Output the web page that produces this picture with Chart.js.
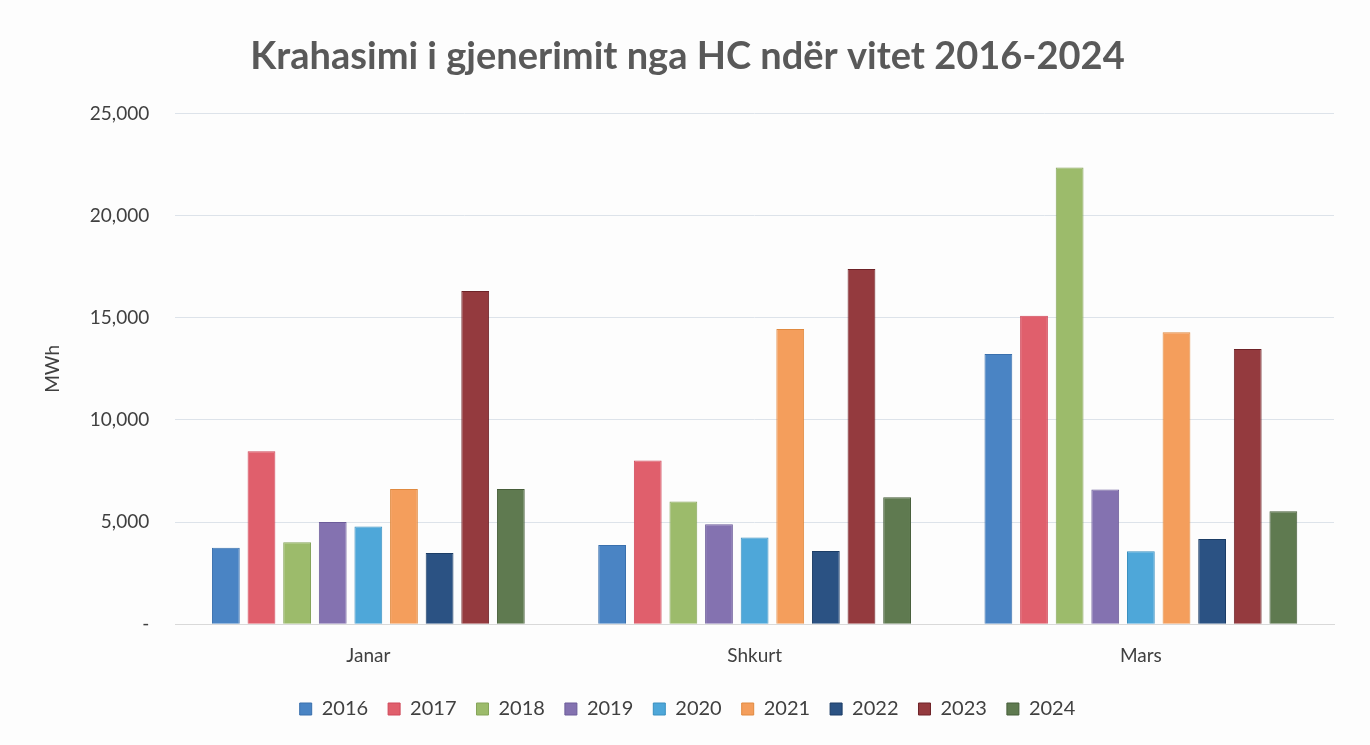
<!DOCTYPE html>
<html>
<head>
<meta charset="utf-8">
<script src="https://cdn.jsdelivr.net/npm/chart.js@4/dist/chart.umd.min.js"></script>
<style>
  html, body { margin: 0; padding: 0; background: #fdfdfd; }
  #wrap { width: 1370px; height: 745px; }
</style>
</head>
<body>
<div id="wrap"><canvas id="myBarChart" width="1370" height="745"></canvas></div>
<script>
// muajt
var months = ['Janar', 'Shkurt', 'Mars'];
var years = ['2016', '2017', '2018', '2019', '2020', '2021', '2022', '2023', '2024'];

// gjenerimi MWh per vit (Janar, Shkurt, Mars)
var v2016 = [3740, 3880, 13230];
var v2017 = [8470, 8020, 15100];
var v2018 = [4010, 6010, 22360];
var v2019 = [5000, 4890, 6590];
var v2020 = [4780, 4240, 3570];
var v2021 = [6620, 14450, 14290];
var v2022 = [3490, 3580, 4170];
var v2023 = [16320, 17390, 13470];
var v2024 = [6620, 6220, 5530];

var yTicks = [0, 5000, 10000, 15000, 20000, 25000];

var colors = ['#4a84c4', '#e05f6c', '#9cbb6b', '#8472b0', '#4ea7d9', '#f49e5c', '#2b5283', '#943a3e', '#5f7a50'];
var borders = ['#3a70ad', '#d0485a', '#86a55a', '#6c5c9a', '#3a90c0', '#e08a40', '#1c3d66', '#6e2328', '#475e3a'];

var series = [v2016, v2017, v2018, v2019, v2020, v2021, v2022, v2023, v2024];
var datasets = [];
for (var i = 0; i < years.length; i++) {
    datasets.push({
        label: years[i],
        data: series[i],
        backgroundColor: colors[i],
        borderColor: borders[i],
        borderWidth: 1
    });
}

var ctx = document.getElementById('myBarChart').getContext('2d');
var myBarChart = new Chart(ctx, {
    type: 'bar',
    data: { labels: months, datasets: datasets },
    options: {
        responsive: false,
        animation: false,
        layout: { padding: { left: 41, right: 36, top: 18, bottom: 16 } },
        plugins: {
            title: {
                display: true,
                text: 'Krahasimi i gjenerimit nga HC ndër vitet 2016-2024',
                color: '#595959',
                font: { family: 'Lato', size: 38, weight: 'bold' },
                padding: { top: 16, bottom: 34 }
            },
            legend: {
                position: 'bottom',
                labels: {
                    color: '#404040',
                    font: { family: 'Lato', size: 20 },
                    boxWidth: 12,
                    boxHeight: 12,
                    padding: 20
                }
            },
            tooltip: { enabled: false }
        },
        datasets: { bar: { categoryPercentage: 0.83, barPercentage: 0.78 } },
        scales: {
            x: {
                grid: { display: false },
                border: { color: '#d9d9d9' },
                ticks: { color: '#404040', font: { family: 'Lato', size: 19 }, padding: 12 }
            },
            y: {
                min: 0,
                max: 25000,
                afterBuildTicks: function (axis) {
                    axis.ticks = yTicks.map(function (v) { return { value: v }; });
                },
                grid: { color: '#dde3ea', drawTicks: false },
                border: { display: false },
                title: {
                    display: true,
                    text: 'MWh',
                    color: '#404040',
                    font: { family: 'Lato', size: 19 },
                    padding: { top: 0, bottom: 0 }
                },
                ticks: {
                    color: '#404040',
                    font: { family: 'Lato', size: 19 },
                    padding: 26,
                    callback: function (v) { return v === 0 ? '-' : v.toLocaleString('en-US'); }
                }
            }
        }
    }
});
</script>
</body>
</html>
